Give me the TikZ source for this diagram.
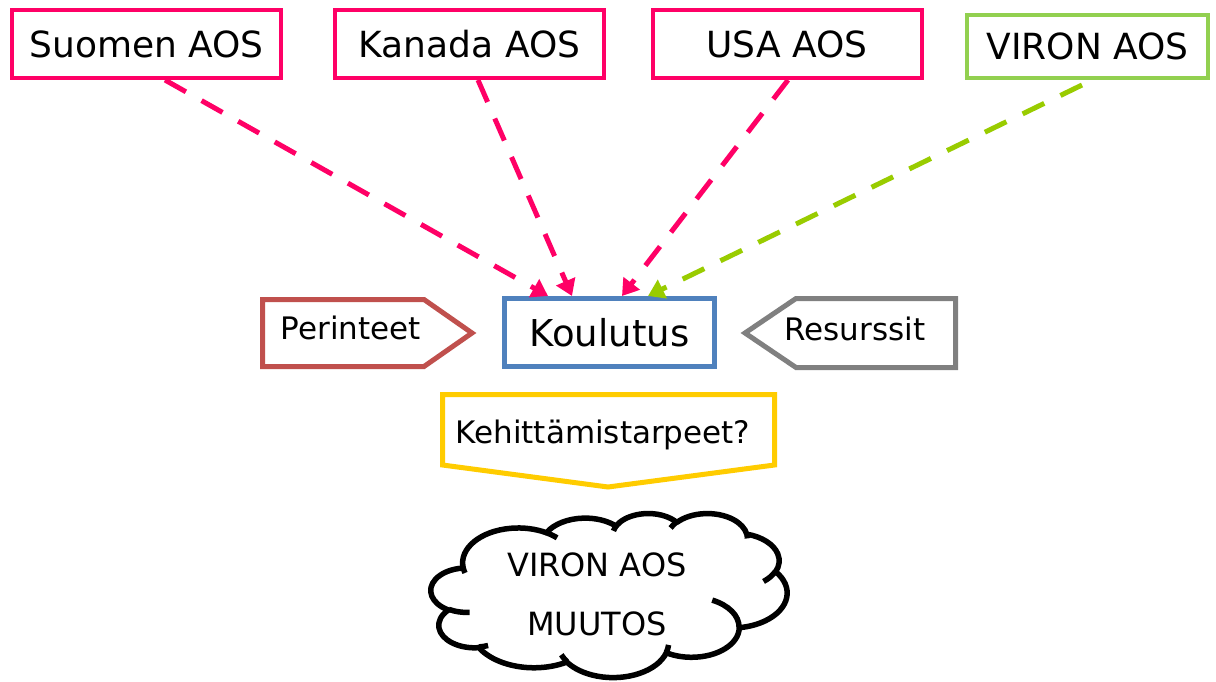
\documentclass[tikz,border=0pt]{standalone}
\usepackage{fontspec}
\setmainfont{DejaVu Sans}
\usetikzlibrary{arrows.meta,calc}
\definecolor{aospink}{HTML}{FF0066}
\definecolor{aosgreen}{HTML}{92D050}
\definecolor{arrgreen}{HTML}{99CC00}
\definecolor{koulblue}{HTML}{4F81BD}
\definecolor{perred}{HTML}{C0504D}
\definecolor{resgrey}{HTML}{808080}
\definecolor{kehyellow}{HTML}{FFCC00}
\newcommand\cldk{1}
\newcommand\cldarc[4]{arc[x radius=#1, y radius=#2, start angle={atan2(#1*\cldk*sin(#3),#2*cos(#3))}, delta angle={mod(atan2(#1*\cldk*sin(#3+#4),#2*cos(#3+#4))-atan2(#1*\cldk*sin(#3),#2*cos(#3))+720,360)}]}
\tikzset{
  topbox/.style={draw=aospink, line width=4pt, minimum width=269pt, minimum height=68pt, inner sep=0pt, font=\fontsize{36}{43}\selectfont},
  aosarrow/.style={draw=aospink, line width=5pt, dash pattern=on 24pt off 18pt, -{Triangle[length=16pt,width=20pt]}},
  midtext/.style={anchor=base, inner sep=0pt, font=\fontsize{31}{37}\selectfont},
  tagshape/.style={line width=5pt, fill=white},
  cloudline/.style={line width=5.5pt, line join=round}
}
\begin{document}
\begin{tikzpicture}[x=1pt,y=-1pt]
\useasboundingbox (0,0) rectangle (1216,682);
\fill[white] (0,0) rectangle (1216,682);

% top boxes
\node[topbox] (suomen) at (146.5,44) {Suomen AOS};
\node[topbox] (kanada) at (469.5,44) {Kanada AOS};
\node[topbox] (usa) at (787,44) {USA AOS};
\node[topbox, draw=aosgreen, minimum width=241pt, minimum height=63pt] (viron) at (1087.5,46.5) {VIRON AOS};

% central box
\node[draw=koulblue, line width=5pt, minimum width=210pt, minimum height=68pt, inner sep=0pt, font=\fontsize{37}{44}\selectfont] (koul) at (609.5,332.5) {Koulutus};

% connectors
\draw[aosarrow] ($(suomen.south)+(18.5,0)$) -- ($(koul.north west)+(46,0)$);
\draw[aosarrow] ($(kanada.south)+(8.5,0)$) -- ($(koul.north west)+(70,0)$);
\draw[aosarrow] ($(usa.south)+(1,0)$) -- ($(koul.north west)+(120,0)$);
\draw[aosarrow, draw=arrgreen] ($(viron.south)+(-5.5,5)$) -- ($(koul.north west)+(146,0)$);

% side tags
\draw[tagshape, draw=perred] (262.5,299.5) -- (424,299.5) -- (472,333) -- (424,366.5) -- (262.5,366.5) -- cycle;
\node[midtext] (perinteet) at (351,339) {Perinteet};
\draw[tagshape, draw=resgrey] (955.5,298.5) -- (796,298.5) -- (745,333) -- (796,367.5) -- (955.5,367.5) -- cycle;
\node[midtext] (resurssit) at (855,340) {Resurssit};
\draw[tagshape, draw=kehyellow] (442.5,394.5) -- (774.5,394.5) -- (774.5,465) -- (608,487) -- (442.5,465) -- cycle;
\node[midtext] (kehit) at (603,443) {Kehittämistarpeet?};

% cloud
\begin{scope}[shift={(431,513)}, x={(0.082407pt,0)}, y={(0,-0.037963pt)}]
\draw[cloudline, fill=white] (390,1437)
  \cldarc{675.3}{919.0}{-190.4875}{123.7805}
  \cldarc{533.3}{726.7}{-144.1024}{89.9452}
  \cldarc{436.5}{594.5}{-145.8079}{99.7230}
  \cldarc{485.7}{659.5}{-130.9861}{117.2417}
  \cldarc{533.3}{727.3}{-78.7089}{109.0269}
  \cldarc{677.5}{922.0}{-46.2673}{130.2690}
  \cldarc{578.5}{786.7}{0.6250}{114.0333}
  \cldarc{675.2}{921.5}{22.4516}{115.1726}
  \cldarc{772.0}{1054.3}{66.2426}{75.7110}
  \cldarc{436.0}{591.8}{-274.9421}{146.7356}
  \cldarc{434.5}{594.5}{-246.8285}{152.5189}
  -- cycle;
\draw[cloudline]
  (469.3,2617.7) \cldarc{434.5}{594.5}{86.7420}{26.4295}
  (692.8,3489.9) \cldarc{436.0}{591.8}{73.6105}{11.4475}
  (1647.8,3909.0) \cldarc{675.2}{921.5}{137.6242}{14.0811}
  (2882.7,3475.1) \cldarc{675.2}{921.5}{6.4533}{15.9984}
  (3412.9,2295.4) \cldarc{578.5}{786.7}{-70.2924}{70.9174}
  (4179.8,1535.4) \cldarc{533.3}{727.3}{30.3180}{27.7515}
  (3832.4,542.6) \cldarc{485.7}{659.5}{-13.7443}{14.8589}
  (2907.8,395.2) \cldarc{485.7}{659.5}{-149.1815}{18.1954}
  (2214.1,472.0) \cldarc{436.5}{594.5}{-163.4943}{17.6864}
  (1400.0,519.2) \cldarc{675.3}{919.0}{-66.7070}{12.3194}
  (412.7,1578.9) \cldarc{675.3}{919.0}{157.6544}{11.8582};
\end{scope}
\node[align=center, inner sep=0pt, font=\fontsize{32}{59}\selectfont] (cloudtext) at (597,594) {VIRON AOS\\MUUTOS};
\end{tikzpicture}
\end{document}
